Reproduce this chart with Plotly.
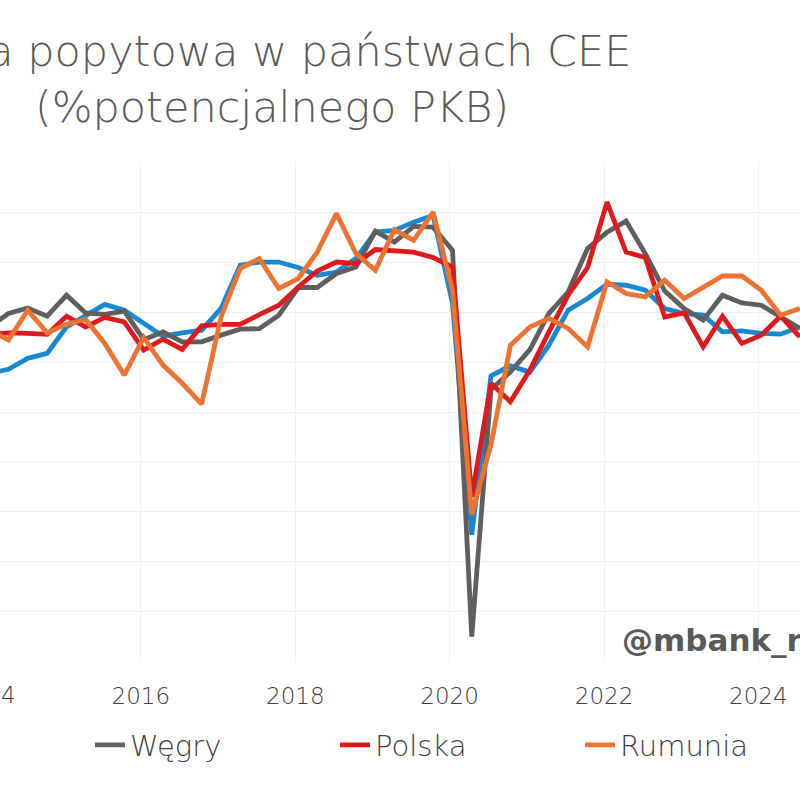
import pandas as pd
import plotly.graph_objects as go

# quarterly observations 2014Q1 .. 2024Q3
quarters = pd.date_range("2014-01-01", periods=43, freq="QS") + pd.Timedelta(days=14)

czechy = [-2.45, -2.29, -1.85, -1.65, -0.59, -0.12, 0.31, 0.08,
          -0.45, -0.96, -0.83, -0.72, 0.15, 1.88, 2.01, 2.01,
          1.79, 1.48, 1.61, 2.15, 3.21, 3.28, 3.61, 3.88,
          0.35, -8.92, -2.55, -2.15, -2.40, -1.32, 0.08, 0.55,
          1.12, 1.08, 0.88, 0.15, -0.05, -0.12, -0.79, -0.75,
          -0.85, -0.88, -0.59]
wegry = [-0.60, -0.05, 0.17, -0.16, 0.68, -0.03, -0.09, 0.04,
         -1.10, -0.79, -1.19, -1.19, -0.92, -0.68, -0.66, -0.12,
         0.99, 0.99, 1.55, 1.81, 3.25, 2.81, 3.44, 3.41,
         2.48, -13.00, -3.10, -2.39, -1.50, -0.05, 0.81, 2.55,
         3.21, 3.65, 2.35, 0.85, 0.15, -0.32, 0.68, 0.37,
         0.28, -0.19, -0.65]
polska = [-0.90, -0.83, -0.85, -0.89, -0.16, -0.59, -0.21, -0.39,
          -1.52, -1.08, -1.49, -0.55, -0.49, -0.49, -0.10, 0.28,
          1.01, 1.65, 2.01, 1.95, 2.51, 2.48, 2.41, 2.19,
          1.81, -7.40, -2.85, -3.59, -2.32, -0.79, 0.68, 1.79,
          4.41, 2.41, 2.19, -0.19, -0.03, -1.39, -0.16, -1.25,
          -0.92, -0.16, -0.99]
rumunia = [-0.70, -1.12, 0.08, -0.83, -0.48, -0.29, -1.25, -2.52,
           -1.01, -2.12, -2.85, -3.68, -0.19, 1.75, 2.15, 0.95,
           1.35, 2.41, 3.95, 2.35, 1.68, 3.31, 2.88, 4.01,
           0.88, -8.12, -5.30, -1.32, -0.59, -0.25, -0.65, -1.39,
           1.21, 0.75, 0.61, 1.28, 0.55, 1.01, 1.45, 1.45,
           0.88, -0.12, 0.15]

series = [
    ("Czechy", czechy, "#1789D2", False),
    ("Węgry", wegry, "#5F5F5F", True),
    ("Polska", polska, "#E01A1C", True),
    ("Rumunia", rumunia, "#EE7331", True),
]

FONT = "DejaVu Sans"

fig = go.Figure()
for name, vals, color, show in series:
    fig.add_trace(go.Scatter(
        x=quarters, y=vals, name=name, mode="lines", showlegend=show,
        line=dict(color=color, width=4.8, shape="linear"),
    ))

x_range = ["2014-03-06", "2024-07-16"]

fig.update_layout(
    width=800, height=800,
    margin=dict(l=0, r=0, t=162, b=138, autoexpand=False),
    plot_bgcolor="white", paper_bgcolor="white",
    font=dict(family=FONT, color="#404040"),
    title=dict(
        text="Luka popytowa w państwach CEE<br>(%potencjalnego PKB)",
        x=0.34, xanchor="center", xref="paper",
        y=1 - 66 / 800, yanchor="top",
        font=dict(family=FONT, size=43, color="#595959", weight=300),
    ),
    xaxis=dict(
        type="date", range=x_range,
        tickformat="%Y", dtick="M24", tick0="2016-01-01",
        showgrid=True, gridcolor="#F0F0F0", gridwidth=1,
        showline=False, ticks="",
        tickfont=dict(family=FONT, size=23, color="#404040", weight=300),
        ticklabelstandoff=18,
    ),
    xaxis2=dict(
        type="date", range=x_range, overlaying="x", matches="x",
        anchor="free", position=0.7, layer="below traces",
        showline=True, linecolor="#C8C8C8", linewidth=2,
        ticks="outside", ticklen=6, tickwidth=2, tickcolor="#C8C8C8",
        dtick="M24", tick0="2016-01-01",
        showticklabels=False, showgrid=False,
    ),
    yaxis=dict(
        range=[-14.02, 6.02], dtick=2, showticklabels=False,
        showgrid=True, gridcolor="#EFEFEF", gridwidth=1,
        zeroline=False,
    ),
    legend=dict(
        orientation="h", x=90 / 800, xanchor="left",
        y=-0.166, yanchor="middle",
        font=dict(family=FONT, size=29, color="#404040", weight=300),
        entrywidth=200, entrywidthmode="pixels",
        bgcolor="rgba(0,0,0,0)",
    ),
    annotations=[
        dict(text="2014", xref="paper", yref="paper",
             x=-13.7 / 800, y=-0.066, xanchor="center", yanchor="middle",
             showarrow=False,
             font=dict(family=FONT, size=23, color="#404040", weight=300)),
        dict(text="@mbank_research", xref="paper", yref="paper",
             x=620 / 800, y=0.044, xanchor="left", yanchor="middle",
             showarrow=False,
             font=dict(family=FONT, size=31, color="#595959", weight=700)),
    ],
)

fig.write_html("out.html")
